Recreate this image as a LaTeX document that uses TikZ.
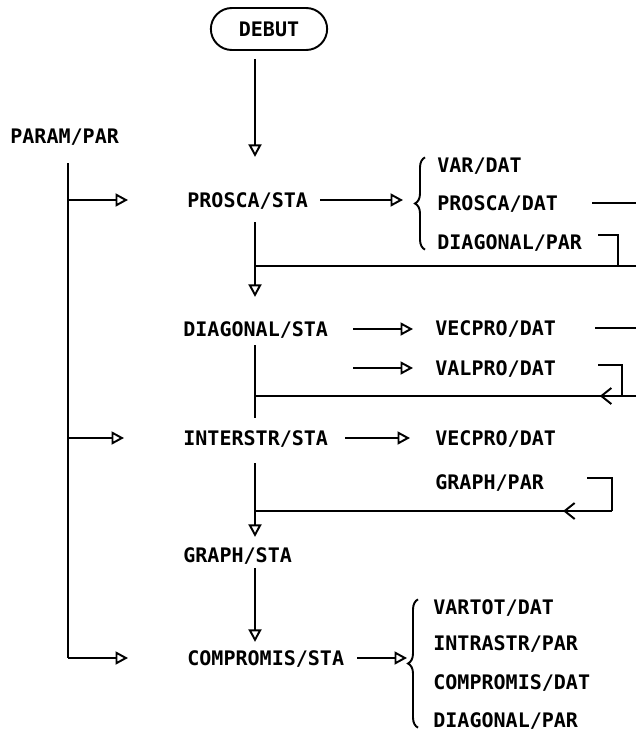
\documentclass[tikz,border=0pt]{standalone}
\usepackage{fontspec}
\setmonofont{DejaVu Sans Mono}
\usetikzlibrary{positioning}
\usetikzlibrary{shapes.misc}
\usetikzlibrary{arrows.meta}
\usetikzlibrary{decorations.markings}
\usetikzlibrary{decorations.pathreplacing}
\tikzset{
prog/.style={font=\ttfamily\bfseries\fontsize{11.4}{13}\selectfont, inner sep=0pt, text height=8.3pt, text depth=0pt, anchor=west},
start_box/.style={rounded rectangle, draw, line width=1.1pt, minimum width=2.56cm, minimum height=0.84cm, font=\ttfamily\bfseries\fontsize{11.4}{13}\selectfont},
flow_arrow/.style={line width=1.1pt, -{Triangle[open, length=0.25cm, width=0.26cm, line width=1.1pt]}},
plain_line/.style={line width=1.1pt},
return_line/.style={line width=1.1pt, postaction={decorate}, decoration={markings, mark=at position #1 with {\arrow{Straight Barb[length=0.2cm, width=0.32cm, line width=1.1pt]}}}},
group_brace/.style={line width=1.1pt, decorate, decoration={brace, amplitude=0.2cm}}
}
\begin{document}
\begin{tikzpicture}[x=0.02cm, y=-0.02cm]
    \useasboundingbox (0,0) rectangle (636,733);
    \coordinate (spine) at (255,0);
    \coordinate (param_line) at (68,0);
    \coordinate (edge) at (636,0);
    \coordinate (return_1) at (636,266);
    \coordinate (return_2) at (636,396);
    \coordinate (return_3) at (612,511);

    \node[start_box] (debut) at (269,29) {DEBUT};
    \node[prog] (param) at (10,136) {PARAM/PAR};

    % main column
    \node[prog] (prosca_sta) at (187,200) {PROSCA/STA};
    \node[prog] (diagonal_sta) at (183,329) {DIAGONAL/STA};
    \node[prog] (interstr_sta) at (183,438) {INTERSTR/STA};
    \node[prog] (graph_sta) at (183,555) {GRAPH/STA};
    \node[prog] (compromis_sta) at (187,658) {COMPROMIS/STA};

    % files
    \node[prog] (var_dat) at (437,165) {VAR/DAT};
    \node[prog] (prosca_dat) at (437,203) {PROSCA/DAT};
    \node[prog] (diagonal_par_1) at (437,242) {DIAGONAL/PAR};
    \node[prog] (vecpro_dat_1) at (435,328) {VECPRO/DAT};
    \node[prog] (valpro_dat) at (435,368) {VALPRO/DAT};
    \node[prog] (vecpro_dat_2) at (435,438) {VECPRO/DAT};
    \node[prog] (graph_par) at (435,482) {GRAPH/PAR};
    \node[prog] (vartot_dat) at (433,607) {VARTOT/DAT};
    \node[prog] (intrastr_par) at (433,643) {INTRASTR/PAR};
    \node[prog] (compromis_dat) at (433,682) {COMPROMIS/DAT};
    \node[prog] (diagonal_par_2) at (433,720) {DIAGONAL/PAR};

    % parameters
    \draw[plain_line, shorten <=0.39cm] (param.south -| param_line) -- (compromis_sta.west -| param_line);
    \foreach \n in {prosca_sta, interstr_sta, compromis_sta}
        \draw[flow_arrow, shorten >=1.18cm] (\n.west -| param_line) -- (\n.west);

    \draw[flow_arrow, shorten <=0.16cm, shorten >=0.71cm] (debut.south -| spine) -- (prosca_sta.north -| spine);

    % prosca
    \draw[flow_arrow, shorten <=0.24cm, shorten >=0.68cm] (prosca_sta.east) -- (prosca_sta.east -| prosca_dat.west);
    \draw[group_brace] ([xshift=-0.24cm]diagonal_par_1.south west) -- ([xshift=-0.24cm]var_dat.north west);
    \draw[plain_line, shorten <=0.68cm] (prosca_dat.east) -- (prosca_dat.east -| edge);
    \draw[plain_line] ([xshift=0.32cm, yshift=0.14cm]diagonal_par_1.east) -- ++(20,0) |- (return_1);
    \draw[plain_line] (return_1) -- (return_1 -| spine);
    \draw[flow_arrow, shorten <=0.29cm, shorten >=0.49cm] (prosca_sta.south -| spine) -- (diagonal_sta.north -| spine);

    % diagonal
    \draw[flow_arrow, shorten <=0.5cm, shorten >=0.44cm] (diagonal_sta.east) -- (diagonal_sta.east -| vecpro_dat_1.west);
    \draw[flow_arrow, shorten <=0.5cm, shorten >=0.44cm] (diagonal_sta.east |- valpro_dat.west) -- (valpro_dat.west);
    \draw[plain_line, shorten <=0.78cm] (vecpro_dat_1.east) -- (vecpro_dat_1.east -| edge);
    \draw[plain_line] ([xshift=0.84cm, yshift=0.06cm]valpro_dat.east) -- ++(24,0) |- (return_2);
    \draw[return_line=0.095] (return_2) -- (return_2 -| spine);
    \draw[plain_line, shorten <=0.17cm, shorten >=0.25cm] (diagonal_sta.south -| spine) -- (interstr_sta.north -| spine);

    % interstr
    \draw[flow_arrow, shorten <=0.34cm, shorten >=0.5cm] (interstr_sta.east) -- (interstr_sta.east -| vecpro_dat_2.west);
    \draw[plain_line] ([xshift=0.86cm, yshift=0.08cm]graph_par.east) -| (return_3);
    \draw[return_line=0.137] (return_3) -- (return_3 -| spine);
    \draw[flow_arrow, shorten <=0.35cm, shorten >=0.21cm] (interstr_sta.south -| spine) -- (graph_sta.north -| spine);

    % graph, compromis
    \draw[flow_arrow, shorten <=0.11cm, shorten >=0.17cm] (graph_sta.south -| spine) -- (compromis_sta.north -| spine);
    \draw[flow_arrow, shorten <=0.26cm, shorten >=0.52cm] (compromis_sta.east) -- (compromis_sta.east -| intrastr_par.west);
    \draw[group_brace] ([xshift=-0.3cm]diagonal_par_2.south west) -- ([xshift=-0.3cm]vartot_dat.north west);
\end{tikzpicture}
\end{document}
